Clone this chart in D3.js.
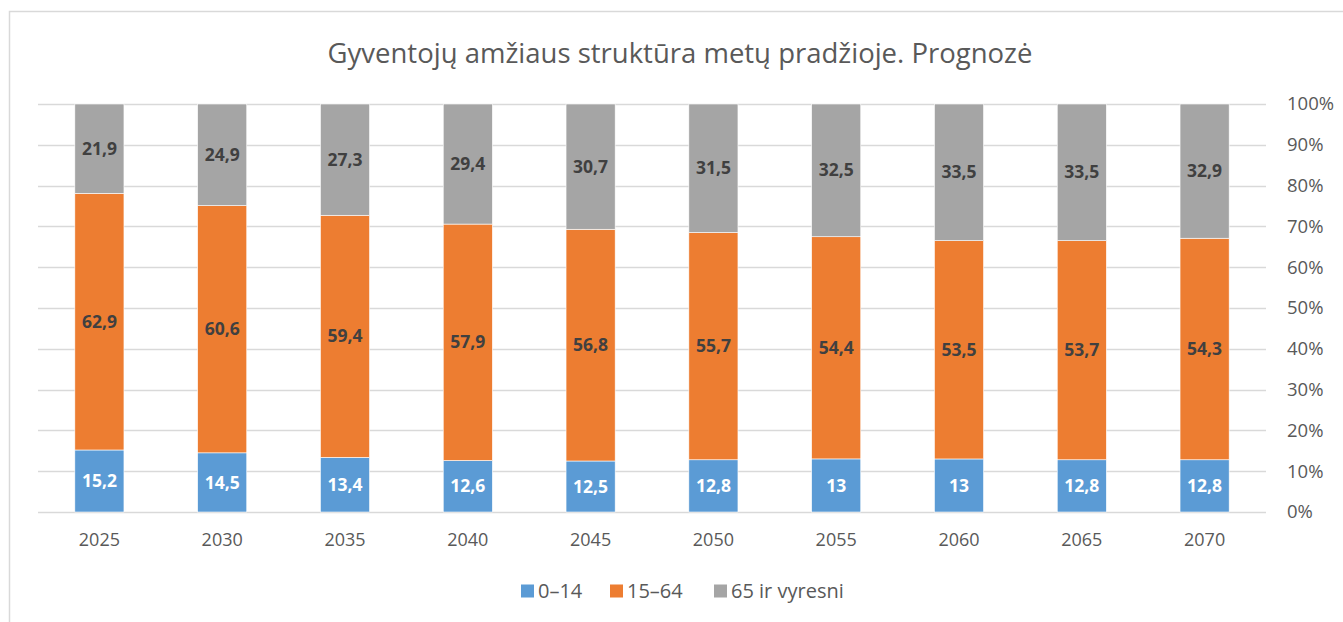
<!DOCTYPE html>
<html>
<head>
<meta charset="utf-8">
<script src="https://cdn.jsdelivr.net/npm/d3@7"></script>
<style>
  body { margin: 0; background: #fff; }
  svg { font-family: "Open Sans", "Liberation Sans", sans-serif; }
</style>
</head>
<body>
<svg id="chart" width="1343" height="622"></svg>
<script>
// chart data
var years = ["2025", "2030", "2035", "2040", "2045", "2050", "2055", "2060", "2065", "2070"];
var age0_14 = [15.2, 14.5, 13.4, 12.6, 12.5, 12.8, 13, 13, 12.8, 12.8];
var age15_64 = [62.9, 60.6, 59.4, 57.9, 56.8, 55.7, 54.4, 53.5, 53.7, 54.3];
var age65 = [21.9, 24.9, 27.3, 29.4, 30.7, 31.5, 32.5, 33.5, 33.5, 32.9];
var seriesNames = ["0–14", "15–64", "65 ir vyresni"];
var colors = ["#5B9BD5", "#ED7D31", "#A5A5A5"];
var yTicks = [0, 0.1, 0.2, 0.3, 0.4, 0.5, 0.6, 0.7, 0.8, 0.9, 1];

var svg = d3.select("#chart");

var margins = { top: 104, bottom: 110, left: 38, right: 77 };
var width = 1343 - margins.left - margins.right;
var height = 622 - margins.top - margins.bottom;

// outer chart border (runs past the window on right and bottom)
svg.append("rect")
    .attr("x", 9.5).attr("y", 11.5)
    .attr("width", 1400).attr("height", 700)
    .attr("fill", "none")
    .attr("stroke", "#D9D9D9")
    .attr("stroke-width", 1.5);

svg.append("text")
    .attr("x", 680)
    .attr("y", 63)
    .attr("text-anchor", "middle")
    .style("font-size", "27.5px")
    .style("fill", "#595959")
    .text("Gyventojų amžiaus struktūra metų pradžioje. Prognozė");

var rows = years.map(function(y, i) {
    var total = age0_14[i] + age15_64[i] + age65[i];
    return { year: y, a: age0_14[i] / total, b: age15_64[i] / total, c: age65[i] / total,
             raw: [age0_14[i], age15_64[i], age65[i]] };
});

var stack = d3.stack().keys(["a", "b", "c"]);
var stacked = stack(rows);

var x = d3.scaleBand().domain(years).range([0, width]).paddingInner(0.6).paddingOuter(0.3);
var y = d3.scaleLinear().domain([0, 1]).range([height, 0]);

var g = svg.append("g")
    .attr("transform", "translate(" + margins.left + "," + margins.top + ")");

// gridlines
g.selectAll(".grid")
    .data(yTicks)
    .enter().append("line")
    .attr("x1", 0).attr("x2", width)
    .attr("y1", d => Math.round(y(d)) + 0.5).attr("y2", d => Math.round(y(d)) + 0.5)
    .attr("stroke", "#D9D9D9")
    .attr("stroke-width", 1.5);

// right axis labels
var yAxis = d3.axisRight(y).tickValues(yTicks).tickFormat(d3.format(".0%")).tickSize(0).tickPadding(21);
var ya = g.append("g").attr("transform", "translate(" + width + ",0)").call(yAxis);
ya.select(".domain").remove();
ya.selectAll("text").style("font-size", "18.5px").style("fill", "#595959")
    .style("font-family", "'Open Sans', sans-serif");

// x axis labels
var xAxis = d3.axisBottom(x).tickSize(0).tickPadding(0);
var xa = g.append("g").attr("transform", "translate(0," + height + ")").call(xAxis);
xa.select(".domain").remove();
xa.selectAll("text").attr("y", 34).attr("dy", null)
    .style("font-size", "18px").style("fill", "#595959")
    .style("font-family", "'Open Sans', sans-serif");

// bars
var layers = g.selectAll(".layer")
    .data(stacked)
    .enter().append("g")
    .attr("class", "layer")
    .attr("fill", (d, i) => colors[i]);

layers.selectAll("rect")
    .data(d => d)
    .enter().append("rect")
    .attr("x", d => x(d.data.year))
    .attr("y", d => y(d[1]))
    .attr("width", x.bandwidth())
    .attr("height", d => y(d[0]) - y(d[1]))
    .attr("stroke", "#fff")
    .attr("stroke-width", 0.6);

// data labels
layers.each(function(layer, li) {
    d3.select(this).selectAll("text")
        .data(layer)
        .enter().append("text")
        .attr("x", d => x(d.data.year) + x.bandwidth() / 2)
        .attr("y", d => (y(d[0]) + y(d[1])) / 2)
        .attr("dy", "0.35em")
        .attr("text-anchor", "middle")
        .style("font-size", "17.5px")
        .style("font-weight", "700")
        .style("fill", li === 0 ? "#FFFFFF" : "#404040")
        .text(d => String(d.data.raw[li]).replace(".", ","));
});

// legend
var legendX = [521, 610, 714];
var legend = svg.append("g").attr("transform", "translate(0,591)");
seriesNames.forEach(function(name, i) {
    legend.append("rect")
        .attr("x", legendX[i]).attr("y", -6.5)
        .attr("width", 13).attr("height", 13)
        .attr("fill", colors[i]);
    legend.append("text")
        .attr("x", legendX[i] + 17).attr("y", 0)
        .attr("dy", "0.36em")
        .style("font-size", "20px")
        .style("fill", "#595959")
        .text(name);
});
</script>
</body>
</html>
